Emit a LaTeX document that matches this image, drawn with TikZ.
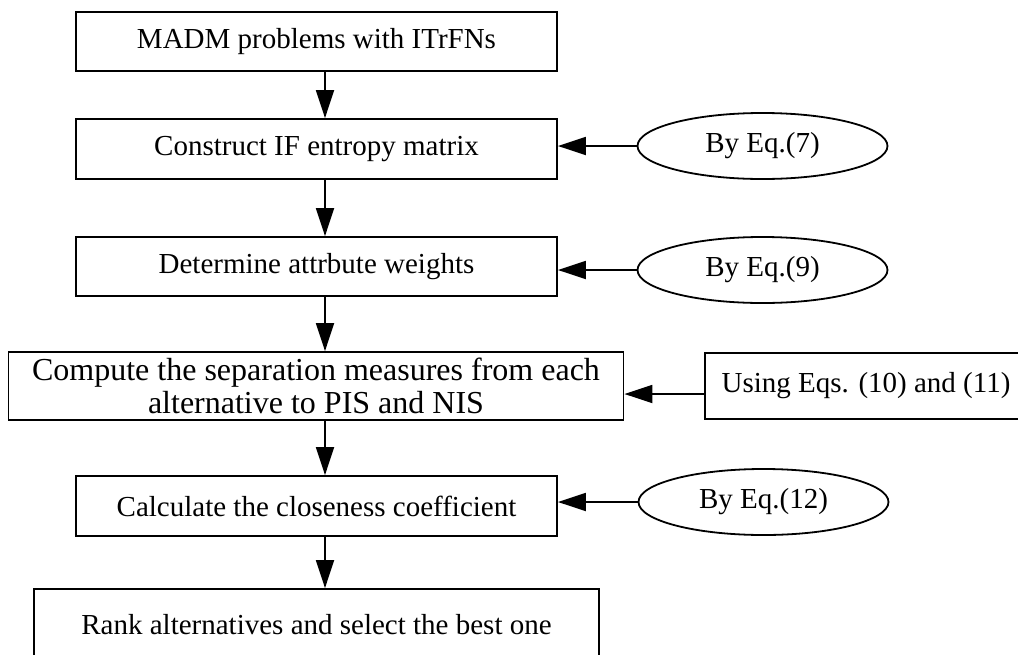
\documentclass[tikz,border=0pt]{standalone}
\usepackage{fontspec}
\setmainfont{Liberation Serif}
\usetikzlibrary{shapes.geometric,arrows.meta,calc}
\begin{document}
\begin{tikzpicture}[x=1pt,y=-1pt,
  every node/.style={font=\fontsize{29}{34}\selectfont, inner sep=0pt},
  stepbox/.style={draw, line width=1.8pt, rectangle, align=center},
  eqnote/.style={draw, line width=1.8pt, ellipse, minimum width=250pt, minimum height=66pt},
  flow/.style={line width=1.8pt, -{Triangle[length=28pt,width=18pt]}}
]
\useasboundingbox (0,0) rectangle (1018,654);
\clip (0,0) rectangle (1018,654);

% main chain of steps
\node[stepbox, minimum width=481pt, minimum height=59pt] (b1) at (316.5,41.5) {MADM problems with ITrFNs};
\node[stepbox, minimum width=481pt, minimum height=60pt] (b2) at (316.5,149) {Construct IF entropy matrix};
\node[stepbox, minimum width=481pt, minimum height=59pt] (b3) at (316.5,266.5) {Determine attrbute weights};
\node[stepbox, minimum width=615pt, minimum height=68pt, font=\fontsize{32}{33}\selectfont] (b4) at (316,386)
  {Compute the separation measures from each\\alternative to PIS and NIS};
\node[stepbox, minimum width=481pt, minimum height=60pt] (b5) at (316.5,506) {Calculate the closeness coefficient};
\node[stepbox, minimum width=565pt, minimum height=71pt] (b6) at (316.5,624.5) {Rank alternatives and select the best one};

% equations feeding each step
\node[eqnote] (e1) at (762.5,146) {By Eq.(7)};
\node[eqnote] (e2) at (762.5,270) {By Eq.(9)};
\node[stepbox, minimum width=322pt, minimum height=66pt] (u) at (866,386) {Using Eqs. (10) and (11)};
\node[eqnote] (e3) at (763.5,502) {By Eq.(12)};

% vertical flow line
\coordinate (axis) at (325,0);
\draw[flow] (b1.south -| axis) -- (b2.north -| axis);
\draw[flow] (b2.south -| axis) -- (b3.north -| axis);
\draw[flow] (b3.south -| axis) -- (b4.north -| axis);
\draw[flow] (b4.south -| axis) -- (b5.north -| axis);
\draw[flow] (b5.south -| axis) -- (b6.north -| axis);

% side inputs
\draw[flow] (e1.west) -- (e1.west -| b2.east);
\draw[flow] (e2.west) -- (e2.west -| b3.east);
\draw[flow] ([yshift=-8pt]u.west) -- ([yshift=-8pt]u.west -| b4.east);
\draw[flow] (e3.west) -- (e3.west -| b5.east);
\end{tikzpicture}
\end{document}
